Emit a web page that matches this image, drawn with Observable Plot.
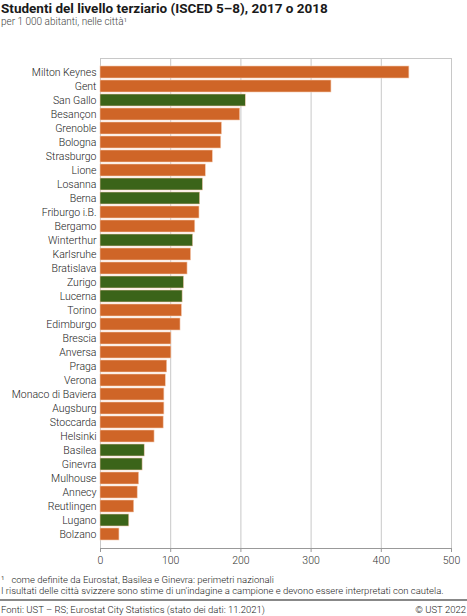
<!DOCTYPE html>
<html>
<head>
<meta charset="utf-8">
<script src="https://cdn.jsdelivr.net/npm/d3@7"></script>
<script src="https://cdn.jsdelivr.net/npm/@observablehq/plot@0.6"></script>
<style>
  html, body { margin: 0; padding: 0; background: #fff; }
  body { width: 467px; height: 616px; position: relative; overflow: hidden; font-family: Roboto, "Noto Sans", sans-serif; color: #222; }
  .abs { position: absolute; white-space: nowrap; }
  #title { left: 1px; top: 0px; font-size: 13.5px; font-weight: bold; line-height: 16px; color: #1a1a1a; }
  #subtitle { left: 1px; top: 16px; font-size: 10px; font-weight: 300; line-height: 12px; color: #444; }
  #rule1 { left: 0; top: 31px; width: 467px; height: 1px; background: #555; }
  #chart { left: 0; top: 31px; }
  .light { font-weight: 300; }
  #fn1 { left: 1px; top: 574px; font-size: 9.5px; line-height: 11px; color: #222; }
  #fn2 { left: 1px; top: 585px; font-size: 9.5px; line-height: 11px; color: #222; }
  #rule2 { left: 0; top: 599px; width: 467px; height: 2px; background: #888; }
  #src { left: 1px; top: 604px; font-size: 9.5px; line-height: 11px; color: #222; }
  #copy { right: 1px; top: 604px; font-size: 9.5px; line-height: 11px; color: #222; }
</style>
</head>
<body>
<div id="title" class="abs">Studenti del livello terziario (ISCED 5–8), 2017 o 2018</div>
<div id="subtitle" class="abs">per 1 000 abitanti, nelle città¹</div>
<div id="rule1" class="abs"></div>
<div id="chart" class="abs"></div>
<div id="fn1" class="abs light">¹&nbsp;&nbsp; come definite da Eurostat, Basilea e Ginevra: perimetri nazionali</div>
<div id="fn2" class="abs light">I risultati delle città svizzere sono stime di un'indagine a campione e devono essere interpretati con cautela.</div>
<div id="rule2" class="abs"></div>
<div id="src" class="abs light">Fonti: UST – RS; Eurostat City Statistics (stato dei dati: 11.2021)</div>
<div id="copy" class="abs light">© UST 2022</div>
<script>
const cities = ["Milton Keynes","Gent","San Gallo","Besançon","Grenoble","Bologna","Strasburgo","Lione","Losanna","Berna","Friburgo i.B.","Bergamo","Winterthur","Karlsruhe","Bratislava","Zurigo","Lucerna","Torino","Edimburgo","Brescia","Anversa","Praga","Verona","Monaco di Baviera","Augsburg","Stoccarda","Helsinki","Basilea","Ginevra","Mulhouse","Annecy","Reutlingen","Lugano","Bolzano"];
const values = [440,329,207,199,173,172,160,150,146,142,141,135,132,129,124,119,117,116,114,101,101,95,93,91,91,90,77,63,60,55,53,48,41,27];
const swissCities = ["San Gallo","Losanna","Berna","Winterthur","Zurigo","Lucerna","Basilea","Ginevra","Lugano"];
const xTicks = [0,100,200,300,400,500];

const data = cities.map((c, i) => ({city: c, value: values[i], group: swissCities.includes(c) ? "CH" : "EU"}));

const chart = Plot.plot({
  width: 467,
  height: 542,
  marginLeft: 100,
  marginRight: 16,
  marginTop: 27,
  marginBottom: 25,
  style: {fontFamily: "Roboto, 'Noto Sans', sans-serif", fontSize: "10.5px", fontWeight: 300, color: "#222", background: "#fff"},
  x: {domain: [0, 500], label: null},
  y: {domain: cities, range: [32.3, 512.3], paddingInner: 0.154, paddingOuter: 0, label: null},
  color: {domain: ["EU", "CH"], range: ["#cf6527", "#3b6419"]},
  marks: [
    Plot.gridX(xTicks, {stroke: "#c8c8c8", strokeOpacity: 1, strokeWidth: 1}),
    Plot.frame({stroke: "#c8c8c8"}),
    Plot.frame({anchor: "bottom", stroke: "#999"}),
    Plot.barX(data, {x: "value", y: "city", fill: "group", stroke: "#f3c9ae", strokeWidth: 0.6}),
    Plot.axisY({tickSize: 0, tickPadding: 4, fill: "#222", fontSize: 10.5, fontWeight: 300}),
    Plot.axisX(xTicks, {tickSize: 4, stroke: "#999", tickPadding: 4, fill: "#333", fontSize: 10.5, fontWeight: 300})
  ]
});
document.getElementById("chart").appendChild(chart);
</script>
</body>
</html>
